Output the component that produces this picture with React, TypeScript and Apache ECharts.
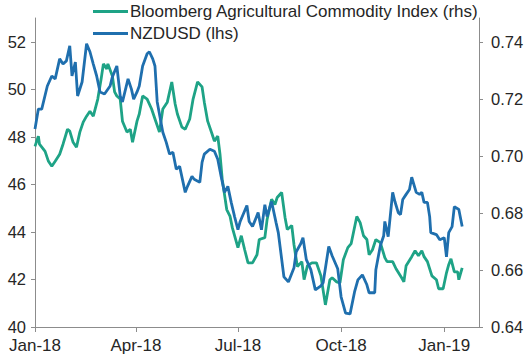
import React, { useEffect, useRef } from "react";
import * as echarts from "echarts";

// Base date for day offsets
const BASE_YEAR = 2018;
const X_MIN = "2018-01-01";
const X_MAX = "2019-02-01";

const SERIES_NAMES = ["Bloomberg Agricultural Commodity Index (rhs)", "NZDUSD (lhs)"];
const MONTHS = ["Jan", "Feb", "Mar", "Apr", "May", "Jun", "Jul", "Aug", "Sep", "Oct", "Nov", "Dec"];

// Bloomberg Agricultural Commodity Index (plotted against left scale)
const agriDays = [
  0, 3, 4, 9, 12, 15, 18, 22, 25, 29, 31, 34, 37, 40, 43, 46, 49, 52, 56, 59,
  61, 64, 65, 69, 71, 73, 76, 78, 82, 85, 87, 91, 93, 96, 100, 104, 107, 111, 114, 118,
  122, 125, 127, 131, 134, 138, 141, 145, 149, 151, 154, 158, 160, 163, 165, 167, 171, 174, 176, 181,
  184, 187, 190, 194, 198, 200, 205, 207, 211, 214, 216, 220, 223, 225, 229, 231, 234, 238, 240, 243,
  247, 251, 255, 259, 263, 265, 269, 272, 275, 279, 282, 287, 290, 293, 296, 298, 301, 304, 308, 312,
  314, 319, 322, 327, 329, 331, 336, 339, 342, 345, 347, 350, 354, 358, 360, 364, 367, 369, 371, 374,
  377, 378, 381,
];
const agriValues = [
  47.6, 48.03, 47.69, 47.39, 46.97, 46.76, 46.97, 47.27, 47.69, 48.32, 48.24, 47.77, 47.56, 48.2, 48.62, 48.87, 49.08, 48.87, 49.59, 50.44,
  51.07, 50.86, 51.07, 50.56, 49.89, 49.72, 49.59, 48.66, 48.2, 48.32, 47.77, 48.66, 48.96, 49.72, 49.59, 49.17, 48.75, 48.2, 49.17, 49.46,
  50.31, 49.38, 48.96, 48.41, 48.32, 48.75, 49.59, 50.31, 50.1, 49.46, 48.66, 48.11, 47.82, 48.03, 47.27, 46.21, 44.94, 44.65, 44.18, 43.34,
  43.84, 43.25, 42.7, 42.7, 43.04, 43.68, 43.76, 44.52, 45.37, 45.15, 45.45, 45.66, 44.61, 44.1, 44.27, 43.46, 42.54, 42.75, 41.99, 42.58,
  42.7, 42.7, 42.15, 40.93, 41.99, 42.07, 41.9, 41.86, 42.83, 43.34, 43.51, 44.65, 44.39, 43.84, 43.68, 43.04, 43.25, 43.68, 43.55, 42.92,
  42.75, 42.75, 42.45, 42.07, 41.9, 42.58, 42.96, 43.21, 43.0, 43.21, 42.96, 42.75, 42.15, 41.99, 41.61, 41.61, 42.28, 42.62, 42.87, 42.32,
  42.32, 41.99, 42.49,
];

// NZDUSD (plotted against right scale)
const nzdDays = [
  0, 3, 6, 11, 15, 18, 22, 25, 28, 31, 33, 36, 38, 42, 46, 49, 52, 55, 58, 62,
  67, 69, 73, 76, 78, 83, 86, 88, 91, 93, 96, 100, 102, 105, 107, 109, 114, 117, 120, 123,
  126, 129, 134, 136, 140, 142, 147, 149, 151, 156, 160, 163, 166, 169, 172, 175, 178, 181, 183, 189,
  191, 194, 199, 202, 205, 207, 211, 215, 217, 222, 226, 231, 233, 237, 239, 242, 246, 250, 255, 257,
  262, 265, 270, 273, 277, 281, 285, 288, 292, 296, 298, 303, 304, 308, 311, 312, 315, 319, 321, 324,
  326, 328, 331, 334, 336, 340, 343, 345, 347, 350, 352, 353, 358, 361, 365, 367, 369, 372, 374, 378,
  381,
];
const nzdValues = [
  0.7094, 0.7164, 0.7164, 0.7245, 0.728, 0.727, 0.734, 0.7322, 0.7333, 0.7386, 0.728, 0.7329, 0.721, 0.7259, 0.7393, 0.7365, 0.7322, 0.728, 0.7224, 0.7217,
  0.7245, 0.7277, 0.7315, 0.721, 0.7189, 0.727, 0.7234, 0.7199, 0.7224, 0.7245, 0.7315, 0.7358, 0.7365, 0.734, 0.7315, 0.7189, 0.7083, 0.7048, 0.7006, 0.7013,
  0.6953, 0.6963, 0.6872, 0.6893, 0.6928, 0.6918, 0.6907, 0.6977, 0.7006, 0.7023, 0.7016, 0.6988, 0.6928, 0.6872, 0.6893, 0.6837, 0.6787, 0.6741, 0.677, 0.6826,
  0.677, 0.6752, 0.6801, 0.6741, 0.6829, 0.6787, 0.684, 0.6766, 0.6731, 0.6576, 0.6558, 0.6608, 0.6664, 0.6692, 0.6713, 0.6636, 0.6601, 0.653, 0.6544, 0.6555,
  0.6682, 0.665, 0.6604, 0.6506, 0.6449, 0.6446, 0.6523, 0.6565, 0.6583, 0.6548, 0.652, 0.652, 0.6601, 0.6685, 0.672, 0.677, 0.6717, 0.6872, 0.684, 0.6801,
  0.6794, 0.6847, 0.6865, 0.6882, 0.6925, 0.6872, 0.6865, 0.6872, 0.6837, 0.6837, 0.6787, 0.6731, 0.6724, 0.6706, 0.6713, 0.6646, 0.6731, 0.6752, 0.6822, 0.6812,
  0.6752,
];

const LEFT_MIN = 40;
const LEFT_MAX = 53;
const LEFT_STEP = 2;
const RIGHT_MIN = 0.64;
const RIGHT_MAX = 0.64 + (13 * 0.1) / 12;
const RIGHT_STEP = 0.02;

const TEAL = "#1ea386";
const BLUE = "#1f6fae";
const AXIS_COLOR = "#8c8c8c";
const TEXT_COLOR = "#262626";
const FONT = "'Liberation Sans', Arial, sans-serif";

const dayToTime = (d: number) => new Date(BASE_YEAR, 0, 1 + d).getTime();
const parseDate = (s: string) => {
  const [y, m, d] = s.split("-").map(Number);
  return new Date(y, m - 1, d).getTime();
};

export default function App() {
  const ref = useRef<HTMLDivElement>(null);
  useEffect(() => {
    if (!ref.current) return;
    const chart = echarts.init(ref.current, undefined, { renderer: "svg" });
    const agriData = agriDays.map((d, i) => [dayToTime(d), agriValues[i]]);
    const nzdData = nzdDays.map((d, i) => [dayToTime(d), nzdValues[i]]);
    chart.setOption({
      animation: false,
      backgroundColor: "#ffffff",
      textStyle: { fontFamily: FONT },
      legend: {
        orient: "vertical",
        left: 93,
        top: 3,
        padding: 0,
        itemWidth: 35,
        itemHeight: 3,
        itemGap: 5,
        icon: "rect",
        data: SERIES_NAMES,
        textStyle: { fontSize: 17, color: TEXT_COLOR, fontFamily: FONT, lineHeight: 17, padding: [0, 0, 0, -3] },
      },
      grid: { left: 35, right: 49, top: 18, bottom: 33, containLabel: false },
      xAxis: {
        type: "time",
        min: parseDate(X_MIN),
        max: parseDate(X_MAX),
        splitNumber: 4,
        axisLine: { lineStyle: { color: AXIS_COLOR, width: 1 } },
        axisTick: { show: true, length: 5, lineStyle: { color: AXIS_COLOR } },
        splitLine: { show: false },
        minorTick: { show: false },
        axisLabel: {
          color: TEXT_COLOR,
          fontSize: 17,
          fontFamily: FONT,
          margin: 10,
          showMinLabel: true,
          showMaxLabel: false,
          hideOverlap: false,
          formatter: (v: number) => {
            const d = new Date(v);
            return `${MONTHS[d.getMonth()]}-${String(d.getFullYear()).slice(2)}`;
          },
        },
      },
      yAxis: [
        {
          type: "value",
          min: LEFT_MIN,
          max: LEFT_MAX,
          interval: LEFT_STEP,
          position: "left",
          axisLine: { show: true, lineStyle: { color: AXIS_COLOR, width: 1 } },
          axisTick: { show: true, length: 4, lineStyle: { color: AXIS_COLOR } },
          splitLine: { show: false },
          axisLabel: { color: TEXT_COLOR, fontSize: 16.5, fontFamily: FONT, margin: 9, showMaxLabel: false },
        },
        {
          type: "value",
          min: RIGHT_MIN,
          max: RIGHT_MAX,
          interval: RIGHT_STEP,
          position: "right",
          axisLine: { show: true, lineStyle: { color: AXIS_COLOR, width: 1 } },
          axisTick: { show: true, length: 4, lineStyle: { color: AXIS_COLOR } },
          splitLine: { show: false },
          axisLabel: {
            color: TEXT_COLOR,
            fontSize: 16.5,
            fontFamily: FONT,
            margin: 12,
            showMaxLabel: false,
            formatter: (v: number) => v.toFixed(2),
          },
        },
      ],
      series: [
        {
          name: SERIES_NAMES[0],
          type: "line",
          yAxisIndex: 0,
          data: agriData,
          showSymbol: false,
          symbol: "none",
          lineStyle: { color: TEAL, width: 2.8 },
          itemStyle: { color: TEAL },
        },
        {
          name: SERIES_NAMES[1],
          type: "line",
          yAxisIndex: 1,
          data: nzdData,
          showSymbol: false,
          symbol: "none",
          lineStyle: { color: BLUE, width: 2.8 },
          itemStyle: { color: BLUE },
        },
      ],
    });
    return () => chart.dispose();
  }, []);
  return (
    <div
      ref={ref}
      style={{ position: "absolute", left: 0, top: 0, width: 528, height: 360, background: "#fff" }}
    />
  );
}
